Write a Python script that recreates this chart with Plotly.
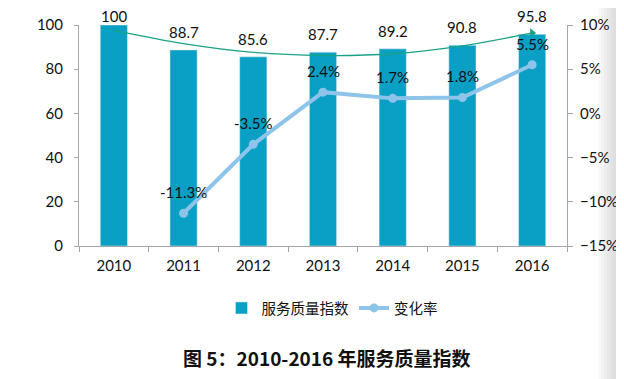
import plotly.graph_objects as go

years = ["2010", "2011", "2012", "2013", "2014", "2015", "2016"]
index_vals = [100, 88.7, 85.6, 87.7, 89.2, 90.8, 95.8]
rate_years = ["2011", "2012", "2013", "2014", "2015", "2016"]
rate_vals = [-11.3, -3.5, 2.4, 1.7, 1.8, 5.5]
trend_vals = [97.6, 91.6, 87.6, 86.2, 87.0, 90.6, 96.4]

BAR = "#0a9fc4"
LINE = "#8ec4e9"
TREND = "#1aa287"
FONT = "Lato, Noto Sans CJK SC, sans-serif"

fig = go.Figure()
fig.add_trace(go.Bar(x=years, y=index_vals, name="服务质量指数", marker_color=BAR,
                     width=0.39, yaxis="y"))
fig.add_trace(go.Scatter(x=years, y=trend_vals, mode="lines", line=dict(color=TREND, width=1.3, shape="spline"),
                         showlegend=False, hoverinfo="skip", yaxis="y"))
fig.add_trace(go.Scatter(x=[years[-1]], y=[trend_vals[-1]], mode="markers",
                         marker=dict(symbol="triangle-right", size=8, color=TREND),
                         showlegend=False, hoverinfo="skip", yaxis="y"))
fig.add_trace(go.Scatter(x=rate_years, y=rate_vals, name="变化率", mode="lines+markers",
                         line=dict(color=LINE, width=4), marker=dict(size=9, color=LINE),
                         yaxis="y2", cliponaxis=False))

ann = []
for x, v in zip(years, index_vals):
    ann.append(dict(x=years.index(x), y=v, xref="x", yref="y", text=f"{v:g}", showarrow=False,
                    yanchor="bottom", yshift=(7 if v < 97 else -2),
                    font=dict(size=15, color="#111", family=FONT)))
for x, v in zip(rate_years, rate_vals):
    ann.append(dict(x=years.index(x), y=v, xref="x", yref="y2", text=f"{v:.1f}%", showarrow=False,
                    yanchor="middle", yshift=21, font=dict(size=15, color="#111", family=FONT)))
ann.append(dict(x=(327 - 79) / 488, y=(246 - 357) / 221, xref="paper", yref="paper",
                text="<b>图 5：2010-2016 年服务质量指数</b>", showarrow=False, yanchor="middle",
                font=dict(size=19, color="#111", family="Noto Sans CJK SC, sans-serif")))

shapes = []
for i in range(8):
    shapes.append(dict(type="rect", xref="paper", yref="paper",
                       x0=(598 + i * 3 - 79) / 488, x1=(624 - 79) / 488, y0=-133 / 221, y1=25 / 221 + 1,
                       fillcolor="rgba(150,150,150,0.06)", line_width=0, layer="below"))

# page body has an 8px margin; figure is sized/offset so the plot area lands at x 79-567, y 25-246
fig.update_layout(
    width=616, height=371,
    margin=dict(l=71, r=57, t=17, b=133, autoexpand=False),
    plot_bgcolor="white", paper_bgcolor="white",
    font=dict(family=FONT, size=15, color="#111"),
    showlegend=True,
    legend=dict(orientation="h", x=(332 - 79) / 488, xanchor="center", y=(246 - 308) / 221, yanchor="middle",
                font=dict(size=14.5, family="Noto Sans CJK SC, sans-serif"), itemwidth=30,
                bgcolor="rgba(0,0,0,0)"),
    xaxis=dict(type="category", range=[-0.5, 6.5], showline=True, linecolor="#a6a6a6", linewidth=1,
               ticks="outside", tickson="boundaries", ticklen=5, tickcolor="#a6a6a6", automargin=False,
               showgrid=False, tickfont=dict(size=15), ticklabelstandoff=6),
    yaxis=dict(range=[0, 100], dtick=20, showline=True, linecolor="#a6a6a6", showgrid=False,
               ticks="outside", ticklen=4, tickcolor="#a6a6a6", zeroline=False, automargin=False,
               tickfont=dict(size=15), ticklabelstandoff=8),
    yaxis2=dict(range=[-15, 10], dtick=5, overlaying="y", side="right", showline=True,
                linecolor="#a6a6a6", showgrid=False, ticks="outside", ticklen=5, tickcolor="#a6a6a6",
                zeroline=False, ticksuffix="%", tickfont=dict(size=15), ticklabelstandoff=4,
                automargin=False),
    annotations=ann, shapes=shapes,
)

fig.write_html("out.html")
